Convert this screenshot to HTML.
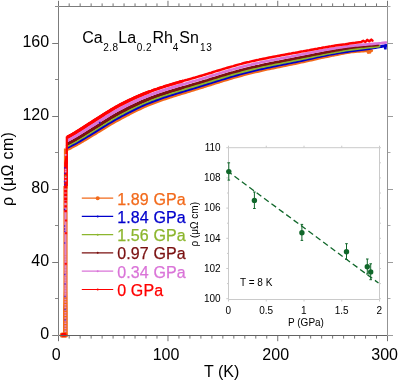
<!DOCTYPE html><html><head><meta charset="utf-8"><style>html,body{margin:0;padding:0;background:#fff}svg{display:block;will-change:transform;opacity:0.999}text{font-family:"Liberation Sans",sans-serif;fill:#000}</style></head><body>
<svg width="399" height="381" viewBox="0 0 399 381">
<rect width="399" height="381" fill="#fff"/>
<g fill="none" stroke-linejoin="round" stroke-linecap="round">
<rect x="63.9" y="148.5" width="4.0" height="40" fill="#f26a1b" stroke="none"/><path d="M63.4,186 L63.4,290 L63.0,310 L63.0,336.5 L67.8,336.5 L67.8,310 L67.6,290 L67.6,186 Z" fill="#f26a1b" stroke="none"/>
<path d="M67.3,149.3 L69.3,148.4 L71.3,147.4 L73.3,146.3 L75.3,145.3 L77.3,144.2 L79.3,143.0 L81.3,141.8 L83.3,140.7 L85.3,139.5 L87.3,138.3 L89.3,137.1 L91.3,135.9 L93.3,134.7 L95.3,133.5 L97.3,132.2 L99.3,131.0 L101.3,129.8 L103.3,128.6 L105.3,127.3 L107.3,126.1 L109.3,124.9 L111.3,123.7 L113.3,122.5 L115.3,121.4 L117.3,120.3 L119.3,119.2 L121.3,118.1 L123.3,117.0 L125.3,116.0 L127.3,114.9 L129.3,113.9 L131.3,112.8 L133.3,111.8 L135.3,110.8 L137.3,109.8 L139.3,108.9 L141.3,107.9 L143.3,107.0 L145.3,106.1 L147.3,105.3 L149.3,104.5 L151.3,103.7 L153.3,102.9 L155.3,102.1 L157.3,101.4 L159.3,100.7 L161.3,100.0 L163.3,99.3 L165.3,98.6 L167.3,97.9 L169.3,97.3 L171.3,96.6 L173.3,96.0 L175.3,95.4 L177.3,94.7 L179.3,94.1 L181.3,93.5 L183.3,92.9 L185.3,92.3 L187.3,91.7 L189.3,91.1 L191.3,90.5 L193.3,89.9 L195.3,89.2 L197.3,88.6 L199.3,88.0 L201.3,87.4 L203.3,86.8 L205.3,86.1 L207.3,85.5 L209.3,84.9 L211.3,84.3 L213.3,83.6 L215.3,83.0 L217.3,82.4 L219.3,81.8 L221.3,81.1 L223.3,80.5 L225.3,79.9 L227.3,79.3 L229.3,78.7 L231.3,78.1 L233.3,77.5 L235.3,77.0 L237.3,76.4 L239.3,75.8 L241.3,75.3 L243.3,74.7 L245.3,74.2 L247.3,73.7 L249.3,73.2 L251.3,72.7 L253.3,72.2 L255.3,71.7 L257.3,71.3 L259.3,70.8 L261.3,70.3 L263.3,69.9 L265.3,69.5 L267.3,69.0 L269.3,68.6 L271.3,68.2 L273.3,67.8 L275.3,67.4 L277.3,67.0 L279.3,66.6 L281.3,66.2 L283.3,65.7 L285.3,65.3 L287.3,64.9 L289.3,64.5 L291.3,64.1 L293.3,63.7 L295.3,63.3 L297.3,62.9 L299.3,62.4 L301.3,62.0 L303.3,61.6 L305.3,61.1 L307.3,60.7 L309.3,60.2 L311.3,59.8 L313.3,59.3 L315.3,58.9 L317.3,58.4 L319.3,58.0 L321.3,57.5 L323.3,57.1 L325.3,56.7 L327.3,56.3 L329.3,55.8 L331.3,55.4 L333.3,55.0 L335.3,54.7 L337.3,54.3 L339.3,53.9 L341.3,53.5 L343.3,53.1 L345.3,52.7 L347.3,52.3 L349.3,52.0 L351.3,51.7 L353.3,51.5 L355.3,51.3 L357.3,51.2 L359.3,51.0 L361.3,50.9 L363.3,50.8 L365.3,50.7 L367.3,50.7 L369.3,50.6 L371.3,50.6 L371.5,50.6" stroke="#f26a1b" stroke-width="3.3"/>
<path d="M67.3,147.5 L69.3,146.5 L71.3,145.5 L73.3,144.5 L75.3,143.4 L77.3,142.2 L79.3,141.1 L81.3,139.9 L83.3,138.7 L85.3,137.5 L87.3,136.3 L89.3,135.1 L91.3,133.9 L93.3,132.7 L95.3,131.4 L97.3,130.2 L99.3,129.0 L101.3,127.7 L103.3,126.5 L105.3,125.3 L107.3,124.0 L109.3,122.8 L111.3,121.6 L113.3,120.5 L115.3,119.3 L117.3,118.2 L119.3,117.1 L121.3,116.0 L123.3,115.0 L125.3,113.9 L127.3,112.9 L129.3,111.8 L131.3,110.8 L133.3,109.8 L135.3,108.8 L137.3,107.9 L139.3,106.9 L141.3,106.0 L143.3,105.1 L145.3,104.2 L147.3,103.4 L149.3,102.6 L151.3,101.8 L153.3,101.0 L155.3,100.3 L157.3,99.5 L159.3,98.8 L161.3,98.1 L163.3,97.4 L165.3,96.7 L167.3,96.1 L169.3,95.4 L171.3,94.8 L173.3,94.2 L175.3,93.5 L177.3,92.9 L179.3,92.3 L181.3,91.7 L183.3,91.1 L185.3,90.5 L187.3,89.9 L189.3,89.3 L191.3,88.7 L193.3,88.1 L195.3,87.5 L197.3,86.9 L199.3,86.3 L201.3,85.6 L203.3,85.0 L205.3,84.4 L207.3,83.8 L209.3,83.1 L211.3,82.5 L213.3,81.9 L215.3,81.3 L217.3,80.6 L219.3,80.0 L221.3,79.4 L223.3,78.8 L225.3,78.2 L227.3,77.6 L229.3,77.0 L231.3,76.4 L233.3,75.8 L235.3,75.2 L237.3,74.7 L239.3,74.1 L241.3,73.6 L243.3,73.0 L245.3,72.5 L247.3,72.0 L249.3,71.5 L251.3,71.0 L253.3,70.5 L255.3,70.0 L257.3,69.6 L259.3,69.1 L261.3,68.7 L263.3,68.2 L265.3,67.8 L267.3,67.4 L269.3,67.0 L271.3,66.6 L273.3,66.1 L275.3,65.7 L277.3,65.3 L279.3,64.9 L281.3,64.5 L283.3,64.1 L285.3,63.7 L287.3,63.3 L289.3,62.9 L291.3,62.5 L293.3,62.1 L295.3,61.7 L297.3,61.3 L299.3,60.9 L301.3,60.5 L303.3,60.0 L305.3,59.6 L307.3,59.1 L309.3,58.7 L311.3,58.3 L313.3,57.8 L315.3,57.4 L317.3,56.9 L319.3,56.5 L321.3,56.1 L323.3,55.6 L325.3,55.2 L327.3,54.8 L329.3,54.4 L331.3,54.0 L333.3,53.7 L335.3,53.3 L337.3,53.0 L339.3,52.6 L341.3,52.3 L343.3,52.0 L345.3,51.7 L347.3,51.4 L349.3,51.1 L351.3,50.8 L353.3,50.5 L355.3,50.3 L357.3,50.0 L359.3,49.7 L361.3,49.5 L363.3,49.2 L365.3,48.9 L367.3,48.7 L369.3,48.4 L371.3,48.1 L373.3,47.8 L375.3,47.5 L377.3,47.1 L379.3,46.8 L381.3,46.4 L383.3,46.1 L385.3,45.7 L385.8,45.6" stroke="#0000cc" stroke-width="3.0"/>
<path d="M67.3,145.6 L69.3,144.6 L71.3,143.5 L73.3,142.5 L75.3,141.4 L77.3,140.2 L79.3,139.0 L81.3,137.8 L83.3,136.6 L85.3,135.4 L87.3,134.1 L89.3,132.9 L91.3,131.7 L93.3,130.5 L95.3,129.3 L97.3,128.0 L99.3,126.8 L101.3,125.5 L103.3,124.3 L105.3,123.1 L107.3,121.8 L109.3,120.6 L111.3,119.4 L113.3,118.2 L115.3,117.1 L117.3,116.0 L119.3,114.9 L121.3,113.8 L123.3,112.8 L125.3,111.7 L127.3,110.7 L129.3,109.7 L131.3,108.7 L133.3,107.7 L135.3,106.7 L137.3,105.7 L139.3,104.8 L141.3,103.9 L143.3,103.0 L145.3,102.2 L147.3,101.3 L149.3,100.5 L151.3,99.7 L153.3,99.0 L155.3,98.2 L157.3,97.5 L159.3,96.8 L161.3,96.1 L163.3,95.4 L165.3,94.8 L167.3,94.1 L169.3,93.5 L171.3,92.8 L173.3,92.2 L175.3,91.6 L177.3,91.0 L179.3,90.4 L181.3,89.8 L183.3,89.2 L185.3,88.6 L187.3,88.0 L189.3,87.4 L191.3,86.8 L193.3,86.2 L195.3,85.6 L197.3,85.0 L199.3,84.4 L201.3,83.8 L203.3,83.1 L205.3,82.5 L207.3,81.9 L209.3,81.3 L211.3,80.7 L213.3,80.0 L215.3,79.4 L217.3,78.8 L219.3,78.2 L221.3,77.6 L223.3,77.0 L225.3,76.3 L227.3,75.7 L229.3,75.1 L231.3,74.6 L233.3,74.0 L235.3,73.4 L237.3,72.8 L239.3,72.3 L241.3,71.7 L243.3,71.2 L245.3,70.7 L247.3,70.2 L249.3,69.7 L251.3,69.2 L253.3,68.7 L255.3,68.2 L257.3,67.8 L259.3,67.3 L261.3,66.9 L263.3,66.5 L265.3,66.0 L267.3,65.6 L269.3,65.2 L271.3,64.8 L273.3,64.4 L275.3,64.0 L277.3,63.6 L279.3,63.2 L281.3,62.8 L283.3,62.4 L285.3,62.0 L287.3,61.6 L289.3,61.2 L291.3,60.8 L293.3,60.4 L295.3,60.0 L297.3,59.6 L299.3,59.2 L301.3,58.8 L303.3,58.4 L305.3,58.0 L307.3,57.5 L309.3,57.1 L311.3,56.7 L313.3,56.3 L315.3,55.8 L317.3,55.4 L319.3,55.0 L321.3,54.6 L323.3,54.2 L325.3,53.8 L327.3,53.4 L329.3,53.0 L331.3,52.6 L333.3,52.2 L335.3,51.9 L337.3,51.5 L339.3,51.2 L341.3,50.8 L343.3,50.5 L345.3,50.1 L347.3,49.8 L349.3,49.5 L351.3,49.2 L353.3,48.9 L355.3,48.7 L357.3,48.4 L359.3,48.2 L361.3,47.9 L363.3,47.7 L365.3,47.5 L367.3,47.3 L369.3,47.1 L371.3,46.9 L373.3,46.7 L375.3,46.4 L377.3,46.2 L379.0,46.0" stroke="#8cb62e" stroke-width="3.0"/>
<path d="M67.3,143.8 L69.3,142.7 L71.3,141.7 L73.3,140.6 L75.3,139.5 L77.3,138.3 L79.3,137.1 L81.3,135.9 L83.3,134.7 L85.3,133.4 L87.3,132.2 L89.3,130.9 L91.3,129.7 L93.3,128.5 L95.3,127.2 L97.3,126.0 L99.3,124.7 L101.3,123.5 L103.3,122.2 L105.3,121.0 L107.3,119.8 L109.3,118.5 L111.3,117.3 L113.3,116.2 L115.3,115.0 L117.3,113.9 L119.3,112.8 L121.3,111.7 L123.3,110.7 L125.3,109.7 L127.3,108.6 L129.3,107.6 L131.3,106.6 L133.3,105.7 L135.3,104.7 L137.3,103.8 L139.3,102.8 L141.3,101.9 L143.3,101.1 L145.3,100.2 L147.3,99.4 L149.3,98.6 L151.3,97.8 L153.3,97.1 L155.3,96.3 L157.3,95.6 L159.3,94.9 L161.3,94.2 L163.3,93.6 L165.3,92.9 L167.3,92.3 L169.3,91.6 L171.3,91.0 L173.3,90.4 L175.3,89.8 L177.3,89.2 L179.3,88.6 L181.3,88.0 L183.3,87.4 L185.3,86.8 L187.3,86.2 L189.3,85.6 L191.3,85.0 L193.3,84.4 L195.3,83.8 L197.3,83.2 L199.3,82.6 L201.3,82.0 L203.3,81.4 L205.3,80.8 L207.3,80.2 L209.3,79.5 L211.3,78.9 L213.3,78.3 L215.3,77.7 L217.3,77.1 L219.3,76.4 L221.3,75.8 L223.3,75.2 L225.3,74.6 L227.3,74.0 L229.3,73.4 L231.3,72.8 L233.3,72.3 L235.3,71.7 L237.3,71.1 L239.3,70.6 L241.3,70.0 L243.3,69.5 L245.3,69.0 L247.3,68.5 L249.3,68.0 L251.3,67.5 L253.3,67.0 L255.3,66.6 L257.3,66.1 L259.3,65.7 L261.3,65.2 L263.3,64.8 L265.3,64.4 L267.3,64.0 L269.3,63.5 L271.3,63.1 L273.3,62.7 L275.3,62.3 L277.3,61.9 L279.3,61.6 L281.3,61.2 L283.3,60.8 L285.3,60.4 L287.3,60.0 L289.3,59.6 L291.3,59.2 L293.3,58.8 L295.3,58.4 L297.3,58.0 L299.3,57.6 L301.3,57.2 L303.3,56.8 L305.3,56.4 L307.3,56.0 L309.3,55.6 L311.3,55.2 L313.3,54.8 L315.3,54.4 L317.3,54.0 L319.3,53.6 L321.3,53.2 L323.3,52.8 L325.3,52.4 L327.3,52.0 L329.3,51.6 L331.3,51.2 L333.3,50.9 L335.3,50.5 L337.3,50.1 L339.3,49.8 L341.3,49.4 L343.3,49.0 L345.3,48.7 L347.3,48.4 L349.3,48.0 L351.3,47.7 L353.3,47.4 L355.3,47.2 L357.3,46.9 L359.3,46.7 L361.3,46.5 L363.3,46.3 L365.3,46.1 L367.3,45.9 L369.3,45.7 L371.3,45.5 L373.3,45.3 L375.3,45.1 L377.3,44.9 L378.0,44.8" stroke="#7a1010" stroke-width="2.7"/>
<path d="M67.3,143.8 L69.3,142.7 L71.3,141.7 L73.3,140.6 L75.3,139.5 L77.3,138.3 L79.3,137.1 L81.3,135.9 L83.3,134.7 L85.3,133.4 L87.3,132.2 L89.3,130.9 L91.3,129.7 L93.3,128.5 L95.3,127.2 L97.3,126.0 L99.3,124.7 L101.3,123.5 L103.3,122.2 L105.3,121.0 L107.3,119.8 L109.3,118.5 L111.3,117.3 L113.3,116.2 L115.3,115.0 L117.3,113.9 L119.3,112.8 L121.3,111.7 L123.3,110.7 L125.3,109.7 L127.3,108.6 L129.3,107.6 L131.3,106.6 L133.3,105.7 L135.3,104.7 L137.3,103.8 L139.3,102.8 L141.3,101.9 L143.3,101.1 L145.3,100.2 L147.3,99.4 L149.3,98.6 L151.3,97.8 L153.3,97.1 L155.3,96.3 L157.3,95.6 L159.3,94.9 L161.3,94.2 L163.3,93.6 L165.3,92.9 L167.3,92.3 L169.3,91.6 L171.3,91.0 L173.3,90.4 L175.3,89.8 L177.3,89.2 L179.3,88.6 L181.3,88.0 L183.3,87.4" stroke="#7a1010" stroke-width="2.85" stroke-linecap="butt"/>
<path d="M67.3,143.8 L69.3,142.7 L71.3,141.7 L73.3,140.6 L75.3,139.5 L77.3,138.3 L79.3,137.1 L81.3,135.9 L83.3,134.7 L85.3,133.4 L87.3,132.2 L89.3,130.9 L91.3,129.7 L93.3,128.5 L95.3,127.2 L97.3,126.0 L99.3,124.7 L101.3,123.5 L103.3,122.2 L105.3,121.0 L107.3,119.8 L109.3,118.5 L111.3,117.3 L113.3,116.2 L115.3,115.0 L117.3,113.9 L119.3,112.8 L121.3,111.7 L123.3,110.7 L125.3,109.7 L127.3,108.6 L129.3,107.6 L131.3,106.6 L133.3,105.7 L135.3,104.7 L137.3,103.8 L139.3,102.8 L141.3,101.9 L143.3,101.1 L145.3,100.2 L147.3,99.4 L149.3,98.6" stroke="#7a1010" stroke-width="3.0" stroke-linecap="butt"/>
<path d="M67.3,140.6 L69.3,139.5 L71.3,138.5 L73.3,137.3 L75.3,136.2 L77.3,135.0 L79.3,133.8 L81.3,132.5 L83.3,131.3 L85.3,130.0 L87.3,128.7 L89.3,127.5 L91.3,126.2 L93.3,125.0 L95.3,123.7 L97.3,122.5 L99.3,121.2 L101.3,119.9 L103.3,118.7 L105.3,117.4 L107.3,116.2 L109.3,114.9 L111.3,113.7 L113.3,112.5 L115.3,111.4 L117.3,110.3 L119.3,109.2 L121.3,108.2 L123.3,107.1 L125.3,106.1 L127.3,105.1 L129.3,104.1 L131.3,103.1 L133.3,102.2 L135.3,101.2 L137.3,100.3 L139.3,99.4 L141.3,98.5 L143.3,97.7 L145.3,96.9 L147.3,96.1 L149.3,95.3 L151.3,94.5 L153.3,93.8 L155.3,93.1 L157.3,92.4 L159.3,91.7 L161.3,91.0 L163.3,90.3 L165.3,89.7 L167.3,89.1 L169.3,88.4 L171.3,87.8 L173.3,87.2 L175.3,86.6 L177.3,86.0 L179.3,85.4 L181.3,84.8 L183.3,84.3 L185.3,83.7 L187.3,83.1 L189.3,82.5 L191.3,81.9 L193.3,81.3 L195.3,80.8 L197.3,80.2 L199.3,79.6 L201.3,79.0 L203.3,78.4 L205.3,77.7 L207.3,77.1 L209.3,76.5 L211.3,75.9 L213.3,75.3 L215.3,74.7 L217.3,74.1 L219.3,73.4 L221.3,72.8 L223.3,72.2 L225.3,71.6 L227.3,71.0 L229.3,70.4 L231.3,69.8 L233.3,69.3 L235.3,68.7 L237.3,68.1 L239.3,67.6 L241.3,67.1 L243.3,66.5 L245.3,66.0 L247.3,65.5 L249.3,65.0 L251.3,64.6 L253.3,64.1 L255.3,63.6 L257.3,63.2 L259.3,62.8 L261.3,62.3 L263.3,61.9 L265.3,61.5 L267.3,61.1 L269.3,60.7 L271.3,60.3 L273.3,59.9 L275.3,59.5 L277.3,59.1 L279.3,58.7 L281.3,58.3 L283.3,58.0 L285.3,57.6 L287.3,57.2 L289.3,56.8 L291.3,56.5 L293.3,56.1 L295.3,55.7 L297.3,55.3 L299.3,54.9 L301.3,54.5 L303.3,54.1 L305.3,53.8 L307.3,53.4 L309.3,53.0 L311.3,52.6 L313.3,52.2 L315.3,51.8 L317.3,51.4 L319.3,51.0 L321.3,50.6 L323.3,50.2 L325.3,49.8 L327.3,49.5 L329.3,49.1 L331.3,48.8 L333.3,48.5 L335.3,48.2 L337.3,47.8 L339.3,47.5 L341.3,47.3 L343.3,47.0 L345.3,46.7 L347.3,46.4 L349.3,46.2 L351.3,45.9 L353.3,45.7 L355.3,45.5 L357.3,45.3 L359.3,45.1 L361.3,44.9 L363.3,44.7 L365.3,44.6 L367.3,44.4 L369.3,44.2 L371.3,44.1 L373.3,43.9 L375.3,43.7 L377.3,43.5 L379.3,43.3 L381.3,43.1 L383.3,42.8 L385.3,42.6 L386.3,42.5" stroke="#da74d8" stroke-width="2.7"/>
<path d="M67.3,140.6 L69.3,139.5 L71.3,138.5 L73.3,137.3 L75.3,136.2 L77.3,135.0 L79.3,133.8 L81.3,132.5 L83.3,131.3 L85.3,130.0 L87.3,128.7 L89.3,127.5 L91.3,126.2 L93.3,125.0 L95.3,123.7 L97.3,122.5 L99.3,121.2 L101.3,119.9 L103.3,118.7 L105.3,117.4 L107.3,116.2 L109.3,114.9 L111.3,113.7 L113.3,112.5 L115.3,111.4 L117.3,110.3 L119.3,109.2 L121.3,108.2 L123.3,107.1 L125.3,106.1 L127.3,105.1 L129.3,104.1 L131.3,103.1 L133.3,102.2 L135.3,101.2 L137.3,100.3 L139.3,99.4 L141.3,98.5 L143.3,97.7 L145.3,96.9 L147.3,96.1 L149.3,95.3 L151.3,94.5 L153.3,93.8 L155.3,93.1 L157.3,92.4 L159.3,91.7 L161.3,91.0 L163.3,90.3 L165.3,89.7 L167.3,89.1 L169.3,88.4 L171.3,87.8 L173.3,87.2 L175.3,86.6 L177.3,86.0 L179.3,85.4 L181.3,84.8 L183.3,84.3" stroke="#da74d8" stroke-width="2.85" stroke-linecap="butt"/>
<path d="M67.3,140.6 L69.3,139.5 L71.3,138.5 L73.3,137.3 L75.3,136.2 L77.3,135.0 L79.3,133.8 L81.3,132.5 L83.3,131.3 L85.3,130.0 L87.3,128.7 L89.3,127.5 L91.3,126.2 L93.3,125.0 L95.3,123.7 L97.3,122.5 L99.3,121.2 L101.3,119.9 L103.3,118.7 L105.3,117.4 L107.3,116.2 L109.3,114.9 L111.3,113.7 L113.3,112.5 L115.3,111.4 L117.3,110.3 L119.3,109.2 L121.3,108.2 L123.3,107.1 L125.3,106.1 L127.3,105.1 L129.3,104.1 L131.3,103.1 L133.3,102.2 L135.3,101.2 L137.3,100.3 L139.3,99.4 L141.3,98.5 L143.3,97.7 L145.3,96.9 L147.3,96.1 L149.3,95.3" stroke="#da74d8" stroke-width="3.0" stroke-linecap="butt"/>
<path d="M67.3,137.2 L69.3,136.1 L71.3,135.0 L73.3,133.8 L75.3,132.7 L77.3,131.4 L79.3,130.2 L81.3,128.9 L83.3,127.6 L85.3,126.3 L87.3,125.0 L89.3,123.7 L91.3,122.5 L93.3,121.2 L95.3,119.9 L97.3,118.6 L99.3,117.4 L101.3,116.1 L103.3,114.8 L105.3,113.5 L107.3,112.3 L109.3,111.1 L111.3,109.8 L113.3,108.7 L115.3,107.5 L117.3,106.4 L119.3,105.3 L121.3,104.3 L123.3,103.3 L125.3,102.3 L127.3,101.3 L129.3,100.3 L131.3,99.4 L133.3,98.4 L135.3,97.5 L137.3,96.6 L139.3,95.7 L141.3,94.9 L143.3,94.1 L145.3,93.3 L147.3,92.5 L149.3,91.7 L151.3,91.0 L153.3,90.2 L155.3,89.5 L157.3,88.9 L159.3,88.2 L161.3,87.5 L163.3,86.9 L165.3,86.2 L167.3,85.6 L169.3,85.0 L171.3,84.4 L173.3,83.8 L175.3,83.2 L177.3,82.6 L179.3,82.0 L181.3,81.5 L183.3,80.9 L185.3,80.3 L187.3,79.8 L189.3,79.2 L191.3,78.6 L193.3,78.0 L195.3,77.5 L197.3,76.9 L199.3,76.3 L201.3,75.7 L203.3,75.1 L205.3,74.5 L207.3,73.9 L209.3,73.3 L211.3,72.7 L213.3,72.0 L215.3,71.4 L217.3,70.8 L219.3,70.2 L221.3,69.6 L223.3,69.0 L225.3,68.4 L227.3,67.8 L229.3,67.2 L231.3,66.6 L233.3,66.1 L235.3,65.5 L237.3,64.9 L239.3,64.4 L241.3,63.9 L243.3,63.3 L245.3,62.8 L247.3,62.3 L249.3,61.9 L251.3,61.4 L253.3,60.9 L255.3,60.5 L257.3,60.1 L259.3,59.6 L261.3,59.2 L263.3,58.8 L265.3,58.4 L267.3,58.0 L269.3,57.6 L271.3,57.2 L273.3,56.8 L275.3,56.4 L277.3,56.1 L279.3,55.7 L281.3,55.3 L283.3,54.9 L285.3,54.6 L287.3,54.2 L289.3,53.8 L291.3,53.5 L293.3,53.1 L295.3,52.8 L297.3,52.4 L299.3,52.0 L301.3,51.6 L303.3,51.3 L305.3,50.9 L307.3,50.5 L309.3,50.2 L311.3,49.8 L313.3,49.4 L315.3,49.0 L317.3,48.7 L319.3,48.3 L321.3,48.0 L323.3,47.6 L325.3,47.3 L327.3,46.9 L329.3,46.6 L331.3,46.3 L333.3,45.9 L335.3,45.6 L337.3,45.3 L339.3,45.0 L341.3,44.7 L343.3,44.4 L345.3,44.2 L347.3,43.9 L349.3,43.6 L351.3,43.3 L353.3,43.0 L355.3,42.8 L357.3,42.5 L359.3,42.2 L361.3,41.9 L363.3,40.8 L365.3,42.0 L367.3,39.9 L369.3,41.3 L371.3,39.6 L372.5,40.7" stroke="#ff0000" stroke-width="2.5"/>
<path d="M67.3,137.2 L69.3,136.1 L71.3,135.0 L73.3,133.8 L75.3,132.7 L77.3,131.4 L79.3,130.2 L81.3,128.9 L83.3,127.6 L85.3,126.3 L87.3,125.0 L89.3,123.7 L91.3,122.5 L93.3,121.2 L95.3,119.9 L97.3,118.6 L99.3,117.4 L101.3,116.1 L103.3,114.8 L105.3,113.5 L107.3,112.3 L109.3,111.1 L111.3,109.8 L113.3,108.7 L115.3,107.5 L117.3,106.4 L119.3,105.3 L121.3,104.3 L123.3,103.3 L125.3,102.3 L127.3,101.3 L129.3,100.3 L131.3,99.4 L133.3,98.4 L135.3,97.5 L137.3,96.6 L139.3,95.7 L141.3,94.9 L143.3,94.1 L145.3,93.3 L147.3,92.5 L149.3,91.7 L151.3,91.0 L153.3,90.2 L155.3,89.5 L157.3,88.9 L159.3,88.2 L161.3,87.5 L163.3,86.9 L165.3,86.2 L167.3,85.6 L169.3,85.0 L171.3,84.4 L173.3,83.8 L175.3,83.2 L177.3,82.6 L179.3,82.0 L181.3,81.5 L183.3,80.9" stroke="#ff0000" stroke-width="2.85" stroke-linecap="butt"/>
<path d="M67.3,137.2 L69.3,136.1 L71.3,135.0 L73.3,133.8 L75.3,132.7 L77.3,131.4 L79.3,130.2 L81.3,128.9 L83.3,127.6 L85.3,126.3 L87.3,125.0 L89.3,123.7 L91.3,122.5 L93.3,121.2 L95.3,119.9 L97.3,118.6 L99.3,117.4 L101.3,116.1 L103.3,114.8 L105.3,113.5 L107.3,112.3 L109.3,111.1 L111.3,109.8 L113.3,108.7 L115.3,107.5 L117.3,106.4 L119.3,105.3 L121.3,104.3 L123.3,103.3 L125.3,102.3 L127.3,101.3 L129.3,100.3 L131.3,99.4 L133.3,98.4 L135.3,97.5 L137.3,96.6 L139.3,95.7 L141.3,94.9 L143.3,94.1 L145.3,93.3 L147.3,92.5 L149.3,91.7" stroke="#ff0000" stroke-width="3.2" stroke-linecap="butt"/>
</g>
<line x1="65.45" y1="186" x2="65.45" y2="296" stroke="#dd84d2" stroke-width="2.1"/>
<line x1="65.45" y1="255" x2="65.45" y2="296" stroke="#f26a1b" stroke-width="2.3" stroke-dasharray="0.5 2.15" stroke-opacity="0.55"/>
<line x1="65.4" y1="296" x2="65.4" y2="332" stroke="#e084d4" stroke-width="1.9" stroke-dasharray="1.55 1.1"/>
<rect x="64.9" y="219.5" width="2.2" height="2.0" fill="#ff1010"/>
<rect x="64.9" y="232.2" width="2.2" height="2.0" fill="#ff1010"/>
<rect x="64.7" y="262.8" width="2.2" height="2.0" fill="#ff1010"/>
<rect x="63.99999999999999" y="225.3" width="1.2" height="1.4" fill="#4a20c8"/>
<rect x="63.99999999999999" y="228.3" width="1.2" height="1.4" fill="#4a20c8"/>
<rect x="64.2" y="230.70000000000002" width="1.2" height="1.4" fill="#4a20c8"/>
<rect x="64.10000000000001" y="242.3" width="1.2" height="1.4" fill="#4a20c8"/>
<rect x="64.2" y="273.8" width="1.2" height="1.4" fill="#4a20c8"/>
<rect x="64.4" y="283.3" width="1.2" height="1.4" fill="#4a20c8"/>
<rect x="64.4" y="295.8" width="1.2" height="1.4" fill="#4a20c8"/>
<rect x="64.4" y="308.8" width="1.2" height="1.4" fill="#4a20c8"/>
<rect x="64.4" y="319.3" width="1.2" height="1.4" fill="#4a20c8"/>
<rect x="98.9" y="121.8" width="1.8" height="1.7" fill="#2a10c8"/>
<line x1="66.8" y1="136.6" x2="66.8" y2="164" stroke="#ff0000" stroke-width="2.2"/>
<path d="M67.9,156 L65.7,156 L64.2,163 L64.2,186 L67.9,186 Z" fill="#ff0000"/>
<line x1="65.6" y1="186" x2="65.6" y2="200" stroke="#ff0000" stroke-width="3" stroke-dasharray="2.6 1.2"/>
<line x1="65.6" y1="200.5" x2="65.6" y2="214" stroke="#ff0000" stroke-width="2.6" stroke-dasharray="2.2 2.6"/>
<rect x="64.1" y="167.1" width="1.4" height="1.6" fill="#3a10c8"/>
<rect x="64.1" y="172.6" width="1.4" height="1.6" fill="#3a10c8"/>
<rect x="63.89999999999999" y="180.7" width="1.4" height="1.6" fill="#3a10c8"/>
<rect x="64.1" y="183.7" width="1.4" height="1.6" fill="#3a10c8"/>
<rect x="63.89999999999999" y="208.7" width="1.4" height="1.6" fill="#3a10c8"/>
<rect x="64.69999999999999" y="154.0" width="1.8" height="1.8" fill="#e08ad8"/>
<rect x="64.69999999999999" y="168.7" width="1.8" height="1.8" fill="#e08ad8"/>
<rect x="64.69999999999999" y="170.7" width="1.8" height="1.8" fill="#e08ad8"/>
<rect x="64.69999999999999" y="176.29999999999998" width="1.8" height="1.8" fill="#e08ad8"/>
<rect x="64.69999999999999" y="179.7" width="1.8" height="1.8" fill="#e08ad8"/>
<rect x="65" y="175.4" width="1.3" height="1.3" fill="#a0b020"/>
<rect x="59.8" y="332.4" width="8" height="5.4" rx="2.2" fill="#f26a1b"/>
<rect x="60.9" y="333.1" width="5.8" height="3.6" rx="1.6" fill="#ff0000"/>
<path d="M366.5,52 L371.5,51 L371,53.6 L367.5,54 Z" fill="#f26a1b"/>
<path d="M383.3,45 L386.9,44.3 L386.6,49.6 L384.2,49.6 Z" fill="#0000cc"/>
<g stroke-width="1" fill="none">
<path d="M58.5,6.5 H387.5" stroke="#7c7c7c"/><path d="M58.5,335.5 H387.5" stroke="#626262"/>
<path d="M58.5,6.5 V335.5" stroke="#7c7c7c"/><path d="M387.5,6.5 V335.5" stroke="#939393"/>
<path d="M58.50,336.0 v5.2 M58.50,6.0 v-5.2" stroke="#1c1c1c" stroke-width="0.62"/>
<path d="M69.18,336.0 v2.6 M69.18,6.0 v-2.6" stroke="#1c1c1c" stroke-width="0.62"/>
<path d="M80.15,336.0 v2.6 M80.15,6.0 v-2.6" stroke="#1c1c1c" stroke-width="0.62"/>
<path d="M91.13,336.0 v2.6 M91.13,6.0 v-2.6" stroke="#1c1c1c" stroke-width="0.62"/>
<path d="M102.11,336.0 v2.6 M102.11,6.0 v-2.6" stroke="#1c1c1c" stroke-width="0.62"/>
<path d="M113.09,336.0 v2.6 M113.09,6.0 v-2.6" stroke="#1c1c1c" stroke-width="0.62"/>
<path d="M124.06,336.0 v2.6 M124.06,6.0 v-2.6" stroke="#1c1c1c" stroke-width="0.62"/>
<path d="M135.04,336.0 v2.6 M135.04,6.0 v-2.6" stroke="#1c1c1c" stroke-width="0.62"/>
<path d="M146.02,336.0 v2.6 M146.02,6.0 v-2.6" stroke="#1c1c1c" stroke-width="0.62"/>
<path d="M156.99,336.0 v2.6 M156.99,6.0 v-2.6" stroke="#1c1c1c" stroke-width="0.62"/>
<path d="M167.97,336.0 v5.2 M167.97,6.0 v-5.2" stroke="#1c1c1c" stroke-width="0.62"/>
<path d="M178.95,336.0 v2.6 M178.95,6.0 v-2.6" stroke="#1c1c1c" stroke-width="0.62"/>
<path d="M189.92,336.0 v2.6 M189.92,6.0 v-2.6" stroke="#1c1c1c" stroke-width="0.62"/>
<path d="M200.90,336.0 v2.6 M200.90,6.0 v-2.6" stroke="#1c1c1c" stroke-width="0.62"/>
<path d="M211.88,336.0 v2.6 M211.88,6.0 v-2.6" stroke="#1c1c1c" stroke-width="0.62"/>
<path d="M222.85,336.0 v2.6 M222.85,6.0 v-2.6" stroke="#1c1c1c" stroke-width="0.62"/>
<path d="M233.83,336.0 v2.6 M233.83,6.0 v-2.6" stroke="#1c1c1c" stroke-width="0.62"/>
<path d="M244.81,336.0 v2.6 M244.81,6.0 v-2.6" stroke="#1c1c1c" stroke-width="0.62"/>
<path d="M255.79,336.0 v2.6 M255.79,6.0 v-2.6" stroke="#1c1c1c" stroke-width="0.62"/>
<path d="M266.76,336.0 v2.6 M266.76,6.0 v-2.6" stroke="#1c1c1c" stroke-width="0.62"/>
<path d="M277.74,336.0 v5.2 M277.74,6.0 v-5.2" stroke="#1c1c1c" stroke-width="0.62"/>
<path d="M288.72,336.0 v2.6 M288.72,6.0 v-2.6" stroke="#1c1c1c" stroke-width="0.62"/>
<path d="M299.69,336.0 v2.6 M299.69,6.0 v-2.6" stroke="#1c1c1c" stroke-width="0.62"/>
<path d="M310.67,336.0 v2.6 M310.67,6.0 v-2.6" stroke="#1c1c1c" stroke-width="0.62"/>
<path d="M321.65,336.0 v2.6 M321.65,6.0 v-2.6" stroke="#1c1c1c" stroke-width="0.62"/>
<path d="M332.62,336.0 v2.6 M332.62,6.0 v-2.6" stroke="#1c1c1c" stroke-width="0.62"/>
<path d="M343.60,336.0 v2.6 M343.60,6.0 v-2.6" stroke="#1c1c1c" stroke-width="0.62"/>
<path d="M354.58,336.0 v2.6 M354.58,6.0 v-2.6" stroke="#1c1c1c" stroke-width="0.62"/>
<path d="M365.56,336.0 v2.6 M365.56,6.0 v-2.6" stroke="#1c1c1c" stroke-width="0.62"/>
<path d="M376.53,336.0 v2.6 M376.53,6.0 v-2.6" stroke="#1c1c1c" stroke-width="0.62"/>
<path d="M387.50,336.0 v5.2 M387.50,6.0 v-5.2" stroke="#1c1c1c" stroke-width="0.62"/>
<path d="M58.0,335.50 h-5.8" stroke="#787878"/><path d="M388.0,335.50 h5.0" stroke="#9c9c9c"/>
<path d="M58.0,298.50 h-3.0" stroke="#8a8a8a"/><path d="M388.0,298.50 h2.5" stroke="#a8a8a8"/>
<path d="M58.0,262.50 h-5.8" stroke="#787878"/><path d="M388.0,262.50 h5.0" stroke="#9c9c9c"/>
<path d="M58.0,225.50 h-3.0" stroke="#8a8a8a"/><path d="M388.0,225.50 h2.5" stroke="#a8a8a8"/>
<path d="M58.0,189.50 h-5.8" stroke="#787878"/><path d="M388.0,189.50 h5.0" stroke="#9c9c9c"/>
<path d="M58.0,152.50 h-3.0" stroke="#8a8a8a"/><path d="M388.0,152.50 h2.5" stroke="#a8a8a8"/>
<path d="M58.0,116.50 h-5.8" stroke="#787878"/><path d="M388.0,116.50 h5.0" stroke="#9c9c9c"/>
<path d="M58.0,79.50 h-3.0" stroke="#8a8a8a"/><path d="M388.0,79.50 h2.5" stroke="#a8a8a8"/>
<path d="M58.0,43.50 h-5.8" stroke="#787878"/><path d="M388.0,43.50 h5.0" stroke="#9c9c9c"/>
<path d="M58.0,6.50 h-3.0" stroke="#8a8a8a"/><path d="M388.0,6.50 h2.5" stroke="#a8a8a8"/>
</g>
<text x="49.1" y="339.0" font-size="16" text-anchor="end">0</text>
<text x="49.1" y="266.0" font-size="16" text-anchor="end">40</text>
<text x="49.1" y="193.0" font-size="16" text-anchor="end">80</text>
<text x="49.1" y="120.0" font-size="16" text-anchor="end">120</text>
<text x="49.1" y="47.0" font-size="16" text-anchor="end">160</text>
<text x="56.2" y="359.8" font-size="16" text-anchor="middle">0</text>
<text x="166" y="359.8" font-size="16" text-anchor="middle">100</text>
<text x="275.7" y="359.8" font-size="16" text-anchor="middle">200</text>
<text x="384.6" y="359.8" font-size="16" text-anchor="middle">300</text>
<text x="204" y="377.2" font-size="16">T (K)</text>
<text transform="translate(12.7,205.9) rotate(-90)" font-size="16" letter-spacing="0.33">ρ (μΩ cm)</text>
<text x="82.3" y="43.2" font-size="16">Ca</text>
<text x="103.2" y="51" font-size="10" letter-spacing="0.5">2.8</text>
<text x="118.3" y="43.2" font-size="16">La</text>
<text x="136.7" y="51" font-size="10" letter-spacing="0.5">0.2</text>
<text x="152.4" y="43.2" font-size="16">Rh</text>
<text x="172.8" y="51" font-size="10" letter-spacing="0.5">4</text>
<text x="179.3" y="43.2" font-size="16">Sn</text>
<text x="200.1" y="51" font-size="10" letter-spacing="0.5">13</text>
<line x1="81.8" y1="198.2" x2="113.2" y2="198.2" stroke="#f26a1b" stroke-width="1.2"/>
<circle cx="97.7" cy="198.2" r="2.0" fill="#f26a1b"/>
<text x="117.3" y="204.8" font-size="16" letter-spacing="0.1" style="fill:#f26a1b;stroke:#f26a1b;stroke-width:0.25">1.89 GPa</text>
<line x1="81.8" y1="216.4" x2="113.2" y2="216.4" stroke="#0000cc" stroke-width="1.2"/>
<circle cx="97.7" cy="216.4" r="1.0" fill="#0000cc"/>
<text x="117.3" y="223.0" font-size="16" letter-spacing="0.1" style="fill:#0000cc;stroke:#0000cc;stroke-width:0.25">1.84 GPa</text>
<line x1="81.8" y1="234.7" x2="113.2" y2="234.7" stroke="#8cb62e" stroke-width="1.2"/>
<circle cx="97.7" cy="234.7" r="1.0" fill="#8cb62e"/>
<text x="117.3" y="241.3" font-size="16" letter-spacing="0.1" style="fill:#8cb62e;stroke:#8cb62e;stroke-width:0.25">1.56 GPa</text>
<line x1="81.8" y1="252.8" x2="113.2" y2="252.8" stroke="#7a1010" stroke-width="1.2"/>
<circle cx="97.7" cy="252.8" r="1.0" fill="#7a1010"/>
<text x="117.3" y="259.4" font-size="16" letter-spacing="0.1" style="fill:#7a1010;stroke:#7a1010;stroke-width:0.25">0.97 GPa</text>
<line x1="81.8" y1="271.2" x2="113.2" y2="271.2" stroke="#da74d8" stroke-width="1.2"/>
<circle cx="97.7" cy="271.2" r="1.0" fill="#da74d8"/>
<text x="117.3" y="277.8" font-size="16" letter-spacing="0.1" style="fill:#da74d8;stroke:#da74d8;stroke-width:0.25">0.34 GPa</text>
<line x1="81.8" y1="289.5" x2="113.2" y2="289.5" stroke="#ff0000" stroke-width="1.2"/>
<circle cx="97.7" cy="289.5" r="1.0" fill="#ff0000"/>
<text x="117.3" y="296.1" font-size="16" letter-spacing="0.1" style="fill:#ff0000;stroke:#ff0000;stroke-width:0.25">0 GPa</text>
<rect x="228.5" y="147.7" width="151.0" height="151.8" fill="#fff" stroke="none"/>
<g stroke="#cacaca" stroke-width="1" fill="none">
<path d="M228.5,147.7 H379.5 V299.5 H228.5 Z"/>
<path d="M228.50,299.5 v2 M228.50,147.7 v-2"/>
<path d="M266.25,299.5 v2 M266.25,147.7 v-2"/>
<path d="M304.00,299.5 v2 M304.00,147.7 v-2"/>
<path d="M341.75,299.5 v2 M341.75,147.7 v-2"/>
<path d="M379.50,299.5 v2 M379.50,147.7 v-2"/>
<path d="M228.5,298.70 h-2.2 M379.5,298.70 h1.5"/>
<path d="M228.5,283.60 h-1.5 M379.5,283.60 h1.5"/>
<path d="M228.5,268.50 h-2.2 M379.5,268.50 h1.5"/>
<path d="M228.5,253.40 h-1.5 M379.5,253.40 h1.5"/>
<path d="M228.5,238.30 h-2.2 M379.5,238.30 h1.5"/>
<path d="M228.5,223.20 h-1.5 M379.5,223.20 h1.5"/>
<path d="M228.5,208.10 h-2.2 M379.5,208.10 h1.5"/>
<path d="M228.5,193.00 h-1.5 M379.5,193.00 h1.5"/>
<path d="M228.5,177.90 h-2.2 M379.5,177.90 h1.5"/>
<path d="M228.5,162.80 h-1.5 M379.5,162.80 h1.5"/>
<path d="M228.5,147.70 h-2.2 M379.5,147.70 h1.5"/>
</g>
<text x="220.7" y="302.1" font-size="10" text-anchor="end">100</text>
<text x="220.7" y="271.9" font-size="10" text-anchor="end">102</text>
<text x="220.7" y="241.7" font-size="10" text-anchor="end">104</text>
<text x="220.7" y="211.4" font-size="10" text-anchor="end">106</text>
<text x="220.7" y="181.2" font-size="10" text-anchor="end">108</text>
<text x="220.7" y="151.0" font-size="10" text-anchor="end">110</text>
<text x="228.3" y="314.2" font-size="10" text-anchor="middle">0</text>
<text x="266.1" y="314.2" font-size="10" text-anchor="middle">0.5</text>
<text x="303.8" y="314.2" font-size="10" text-anchor="middle">1</text>
<text x="341.6" y="314.2" font-size="10" text-anchor="middle">1.5</text>
<text x="379.3" y="314.2" font-size="10" text-anchor="middle">2</text>
<text x="288" y="326" font-size="10">P (GPa)</text>
<text x="240" y="285.6" font-size="10">T = 8 K</text>
<text transform="translate(198.2,246.5) rotate(-90)" font-size="10">ρ (μΩ cm)</text>
<line x1="228.7" y1="172" x2="378.5" y2="283" stroke="#10672a" stroke-width="1.3" stroke-dasharray="5.8 3.4" stroke-dashoffset="2"/>
<path d="M228.8,162.8 V180.1 M227.5,162.8 h2.6 M227.5,180.1 h2.6" stroke="#10672a" stroke-width="1" fill="none"/>
<circle cx="228.8" cy="171.6" r="2.7" fill="#10672a"/>
<path d="M254.4,192.0 V208.5 M253.1,192.0 h2.6 M253.1,208.5 h2.6" stroke="#10672a" stroke-width="1" fill="none"/>
<circle cx="254.4" cy="200.4" r="2.7" fill="#10672a"/>
<path d="M301.9,224.4 V240.4 M300.59999999999997,224.4 h2.6 M300.59999999999997,240.4 h2.6" stroke="#10672a" stroke-width="1" fill="none"/>
<circle cx="301.9" cy="232.7" r="2.7" fill="#10672a"/>
<path d="M346.5,243.7 V259.5 M345.2,243.7 h2.6 M345.2,259.5 h2.6" stroke="#10672a" stroke-width="1" fill="none"/>
<circle cx="346.5" cy="251.7" r="2.7" fill="#10672a"/>
<path d="M367.3,259 V274 M366.0,259 h2.6 M366.0,274 h2.6" stroke="#10672a" stroke-width="1" fill="none"/>
<circle cx="367.3" cy="266.7" r="2.7" fill="#10672a"/>
<path d="M370.7,263.8 V279.7 M369.4,263.8 h2.6 M369.4,279.7 h2.6" stroke="#10672a" stroke-width="1" fill="none"/>
<circle cx="370.7" cy="271.9" r="2.7" fill="#10672a"/>
</svg></body></html>
